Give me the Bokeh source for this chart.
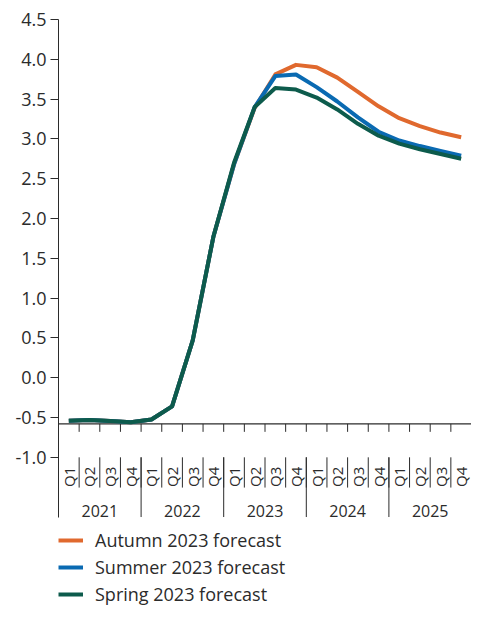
from math import pi
from bokeh.plotting import figure
from bokeh.models import Range1d, FixedTicker, NumeralTickFormatter, Legend, LegendItem
from bokeh.core.properties import value
from bokeh.embed import file_html
from bokeh.resources import INLINE

# ---- data ----
years = ["2021", "2022", "2023", "2024", "2025"]
quarters = ["Q1", "Q2", "Q3", "Q4"]
autumn = [-0.54, -0.53, -0.545, -0.56, -0.525, -0.36, 0.47, 1.77, 2.68, 3.39,
          3.81, 3.93, 3.90, 3.77, 3.59, 3.41, 3.26, 3.16, 3.08, 3.02]
summer = [-0.54, -0.53, -0.545, -0.56, -0.525, -0.36, 0.47, 1.77, 2.68, 3.40,
          3.79, 3.81, 3.65, 3.47, 3.27, 3.09, 2.98, 2.91, 2.85, 2.79]
spring = [-0.54, -0.53, -0.545, -0.56, -0.525, -0.36, 0.47, 1.77, 2.70, 3.40,
          3.64, 3.62, 3.52, 3.37, 3.19, 3.04, 2.94, 2.87, 2.81, 2.75]
series_names = ["Autumn 2023 forecast", "Summer 2023 forecast", "Spring 2023 forecast"]
y_ticks = [-1.0, -0.5, 0.0, 0.5, 1.0, 1.5, 2.0, 2.5, 3.0, 3.5, 4.0, 4.5]

# ---- style / layout constants ----
COLORS = ["#E0692E", "#0A6AB2", "#0D5B4C"]
FONT = "Open Sans"
INK = "#2b2b2b"
AXIS_Y = -0.58        # where horizontal axis line sits
Y_TOP = 4.5
Y_MIN = -2.874
AXIS_BOTTOM = -1.75   # bottom of the y-axis line / year separators
QSEP_BOTTOM = -1.38
SEP_TOP = -1.0
QLABEL_Y = -1.245
YLABEL_Y = -1.68
TICK_LEN = 0.1

n = len(years) * len(quarters)
xc = [i + 0.5 for i in range(n)]
qlabels = [q for y in years for q in quarters]

p = figure(width=471, height=606, output_backend="svg", toolbar_location=None,
           x_range=Range1d(0, n), y_range=Range1d(Y_MIN, Y_TOP),
           x_axis_type=None, min_border_left=58, min_border_right=0,
           min_border_top=19, min_border_bottom=0)
p.outline_line_color = None
p.grid.visible = False
p.background_fill_color = None
p.border_fill_color = None

ax = p.yaxis[0]
ax.ticker = FixedTicker(ticks=y_ticks)
ax.formatter = NumeralTickFormatter(format="0.0")
ax.bounds = (AXIS_BOTTOM, Y_TOP)
ax.axis_line_color = INK
ax.major_tick_line_color = INK
ax.major_tick_out = 8
ax.major_tick_in = 0
ax.minor_tick_line_color = None
ax.major_label_standoff = 4
ax.major_label_text_font = FONT
ax.major_label_text_font_size = "18px"
ax.major_label_text_color = INK

# horizontal axis line and quarter ticks
p.segment(x0=[0], y0=[AXIS_Y], x1=[n], y1=[AXIS_Y], line_color=INK, line_width=1.2)
bounds = list(range(1, n))
p.segment(x0=bounds, y0=[AXIS_Y] * len(bounds), x1=bounds,
          y1=[AXIS_Y - TICK_LEN] * len(bounds), line_color=INK, line_width=1)

# category separators
p.segment(x0=bounds, y0=[SEP_TOP] * len(bounds), x1=bounds,
          y1=[QSEP_BOTTOM] * len(bounds), line_color=INK, line_width=1)
ybounds = [4 * k for k in range(1, len(years))]
p.segment(x0=ybounds, y0=[SEP_TOP] * len(ybounds), x1=ybounds,
          y1=[AXIS_BOTTOM] * len(ybounds), line_color=INK, line_width=1)

# labels
p.text(x=xc, y=[QLABEL_Y] * n, text=qlabels, angle=pi / 2,
       text_font=value(FONT), text_font_size="15px", text_color=INK,
       text_align="center", text_baseline="middle")
ycent = [4 * k + 2 for k in range(len(years))]
p.text(x=ycent, y=[YLABEL_Y] * len(years), text=years,
       text_font=value(FONT), text_font_size="16px", text_color=INK,
       text_align="center", text_baseline="middle")

# series
renderers = []
for data, col in zip([autumn, summer, spring], COLORS):
    r = p.line(xc, data, line_color=col, line_width=4, line_join="round")
    renderers.append(r)

legend = Legend(items=[LegendItem(label=nm, renderers=[r]) for nm, r in zip(series_names, renderers)],
                location="bottom_left", padding=0, margin=0, spacing=3,
                label_height=22, glyph_height=22, glyph_width=25, label_standoff=12,
                label_text_font=FONT, label_text_font_size="18px", label_text_color=INK,
                border_line_color=None, background_fill_alpha=0)
p.add_layout(legend)

open("out.html", "w").write(file_html(p, INLINE))
